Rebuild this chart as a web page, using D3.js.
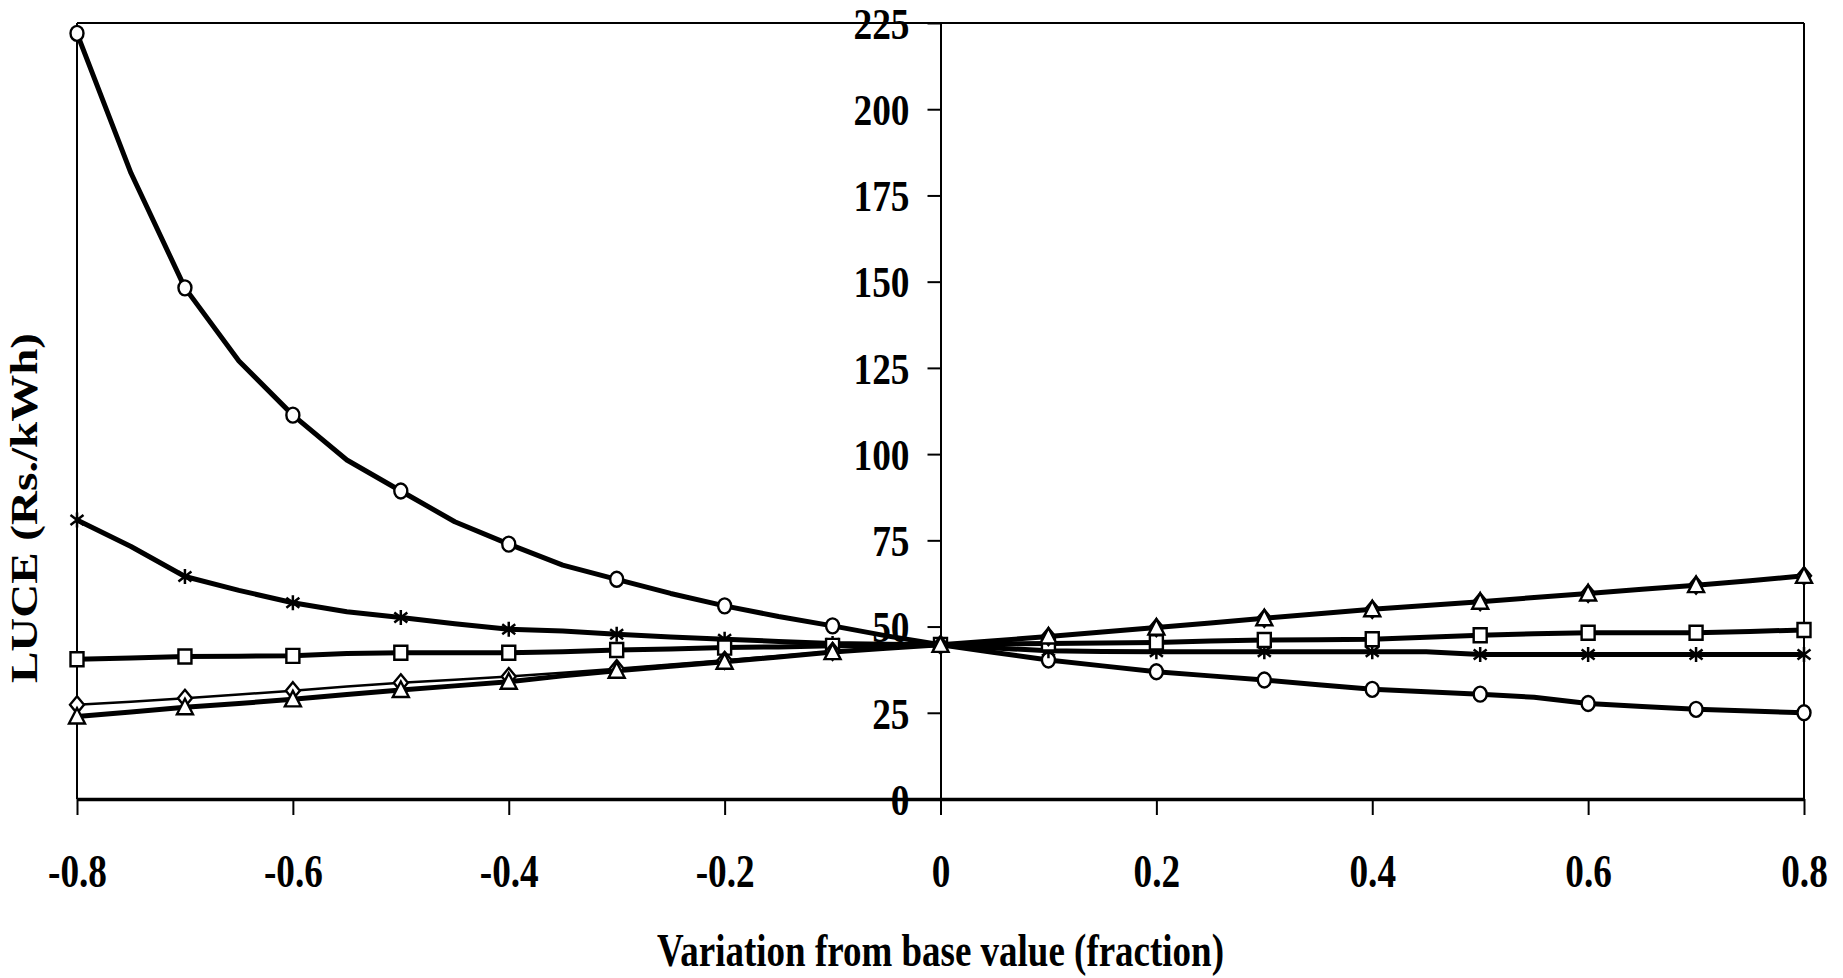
<!DOCTYPE html>
<html>
<head>
<meta charset="utf-8">
<script src="https://cdn.jsdelivr.net/npm/d3@7"></script>
<style>
  html, body { margin: 0; padding: 0; background: #fff; }
  svg { display: block; }
  text { font-family: "Liberation Serif", "Times New Roman", serif; font-weight: bold; fill: #000; }
</style>
</head>
<body>
<svg id="chart" width="1843" height="978"></svg>
<script>
// ---- Data ----
const xValues = [-0.8,-0.75,-0.7,-0.65,-0.6,-0.55,-0.5,-0.45,-0.4,-0.35,-0.3,-0.25,-0.2,-0.15,-0.1,-0.05,0,
                 0.05,0.1,0.15,0.2,0.25,0.3,0.35,0.4,0.45,0.5,0.55,0.6,0.65,0.7,0.75,0.8];

const circleSeries = [222,181.5,148.2,127,111.3,98.3,89.3,80.4,73.9,67.8,63.7,59.6,56.0,52.9,50.2,47.3,44.7,
                      42.5,40.3,38.6,36.9,35.7,34.5,33.1,31.8,31.1,30.4,29.5,27.7,26.8,26.0,25.5,25.0];
const starSeries = [80.9,73.2,64.5,60.5,56.9,54.3,52.6,50.8,49.2,48.7,47.8,47.0,46.3,45.7,45.1,44.9,44.7,
                    43.8,43.0,42.8,42.7,42.7,42.7,42.7,42.7,42.7,41.9,41.9,41.9,41.9,41.9,41.9,41.9];
const squareSeries = [40.5,40.9,41.3,41.4,41.5,42.2,42.4,42.4,42.4,42.7,43.2,43.5,43.9,44.1,44.4,44.5,44.7,
                      44.9,45.1,45.2,45.4,45.8,46.1,46.2,46.3,46.9,47.5,47.9,48.2,48.2,48.2,48.6,49.0];
const diamondSeries = [27.3,28.2,29.2,30.3,31.4,32.6,33.7,34.6,35.5,36.6,37.8,39.0,40.2,41.5,42.8,43.8,44.7,
                       45.9,47.1,48.4,49.7,51.0,52.4,53.7,55.0,56.1,57.2,58.4,59.6,60.8,62.0,63.3,64.7];
const triangleSeries = [23.9,25.2,26.6,27.7,28.9,30.3,31.6,32.8,34.0,35.7,37.2,38.5,39.8,41.2,42.6,43.7,44.7,
                        45.9,47.1,48.4,49.7,51.0,52.4,53.7,55.0,56.1,57.2,58.4,59.6,60.8,62.0,63.3,64.7];

const xTickValues = [-0.8,-0.6,-0.4,-0.2,0,0.2,0.4,0.6,0.8];
const xTickLabels = ["-0.8","-0.6","-0.4","-0.2","0","0.2","0.4","0.6","0.8"];
const yTickValues = [0,25,50,75,100,125,150,175,200,225];
const yTickLabels = ["0","25","50","75","100","125","150","175","200","225"];

const xTitle = "Variation from base value (fraction)";
const yTitle = "LUCE (Rs./kWh)";

// ---- Layout ----
const svg = d3.select("#chart");
const plotLeft = 77, plotRight = 1804, plotTop = 23, plotBottom = 799;

const x = d3.scaleLinear().domain([-0.8, 0.8]).range([plotLeft, plotRight]);
const y = d3.scaleLinear().domain([0, 225]).range([plotBottom, plotTop]);

function condense(sel, factor) {
  sel.each(function () {
    const len = this.getComputedTextLength();
    d3.select(this).attr("textLength", len * factor).attr("lengthAdjust", "spacingAndGlyphs");
  });
}

// Plot frame (left, right)
svg.append("line").attr("x1", plotLeft).attr("x2", plotLeft).attr("y1", plotTop).attr("y2", plotBottom)
  .attr("stroke", "#000").attr("stroke-width", 2);
svg.append("line").attr("x1", plotRight).attr("x2", plotRight).attr("y1", plotTop).attr("y2", plotBottom)
  .attr("stroke", "#000").attr("stroke-width", 2);

// Y axis (at x = 0)
const yAxis = svg.append("g")
  .attr("transform", `translate(${x(0)},0)`)
  .call(d3.axisLeft(y).tickValues(yTickValues).tickFormat((d, i) => yTickLabels[i])
        .tickSize(13).tickSizeOuter(0).tickPadding(18));
yAxis.select(".domain").attr("stroke", "#000").attr("stroke-width", 2);
yAxis.selectAll(".tick line").attr("stroke", "#000").attr("stroke-width", 2);
yAxis.selectAll(".tick text")
  .attr("font-family", null).attr("font-size", 45).attr("dy", "0.34em");
condense(yAxis.selectAll(".tick text"), 0.83);

// Top border drawn over labels
svg.append("line").attr("x1", plotLeft).attr("x2", plotRight).attr("y1", plotTop).attr("y2", plotTop)
  .attr("stroke", "#000").attr("stroke-width", 2);

// X axis (bottom)
const xAxis = svg.append("g")
  .attr("transform", `translate(0,${plotBottom})`)
  .call(d3.axisBottom(x).tickValues(xTickValues).tickFormat((d, i) => xTickLabels[i])
        .tickSize(16).tickSizeOuter(0));
xAxis.select(".domain").attr("stroke", "#000").attr("stroke-width", 3.5);
xAxis.selectAll(".tick line").attr("stroke", "#000").attr("stroke-width", 2);
xAxis.selectAll(".tick text")
  .attr("font-family", null).attr("font-size", 46).attr("dy", null).attr("y", 88);
condense(xAxis.selectAll(".tick text"), 0.81);

// Axis titles
const xt = svg.append("text").attr("x", (plotLeft + plotRight) / 2).attr("y", 966)
  .attr("text-anchor", "middle").attr("font-size", 46).text(xTitle);
xt.attr("textLength", 567).attr("lengthAdjust", "spacingAndGlyphs");

const yt = svg.append("text").attr("transform", "translate(37,508) rotate(-90)")
  .attr("text-anchor", "middle").attr("font-size", 38).text(yTitle);
yt.attr("textLength", 350).attr("lengthAdjust", "spacingAndGlyphs");

// ---- Series ----
const series = [
  { name: "circle", values: circleSeries, width: 5 },
  { name: "star", values: starSeries, width: 5 },
  { name: "square", values: squareSeries, width: 5 },
  { name: "diamond", values: diamondSeries, width: 2.5 },
  { name: "triangle", values: triangleSeries, width: 5 }
];

const lineGen = d3.line().x(d => x(d[0])).y(d => y(d[1]));

const lineG = svg.append("g");
series.forEach(s => {
  const pts = xValues.map((xv, i) => [xv, s.values[i]]);
  lineG.append("path").datum(pts).attr("d", lineGen)
    .attr("fill", "none").attr("stroke", "#000").attr("stroke-width", s.width)
    .attr("stroke-linejoin", "round").attr("stroke-linecap", "butt");
});

const markerPaths = {
  star: "M0,-7.5L0,7.5M-6.5,-5L6.5,5M-6.5,5L6.5,-5",
  square: "M-6.5,-7L6.5,-7L6.5,7L-6.5,7Z",
  diamond: "M0,-8.5L7,0L0,8.5L-7,0Z",
  triangle: "M0,-8.5L8,7L-8,7Z"
};

const markG = svg.append("g");
series.forEach(s => {
  const pts = xValues.map((xv, i) => [xv, s.values[i]]).filter((d, i) => i % 2 === 0);
  const g = markG.append("g");
  if (s.name === "circle") {
    g.selectAll("ellipse").data(pts).join("ellipse")
      .attr("cx", d => x(d[0])).attr("cy", d => y(d[1]))
      .attr("rx", 6.5).attr("ry", 7.5)
      .attr("fill", "#fff").attr("stroke", "#000").attr("stroke-width", 2.4);
  } else {
    g.selectAll("path").data(pts).join("path")
      .attr("transform", d => `translate(${x(d[0])},${y(d[1])})`)
      .attr("d", markerPaths[s.name])
      .attr("fill", s.name === "star" ? "none" : "#fff")
      .attr("stroke", "#000").attr("stroke-width", s.name === "star" ? 2.5 : 2.4);
  }
});
</script>
</body>
</html>
